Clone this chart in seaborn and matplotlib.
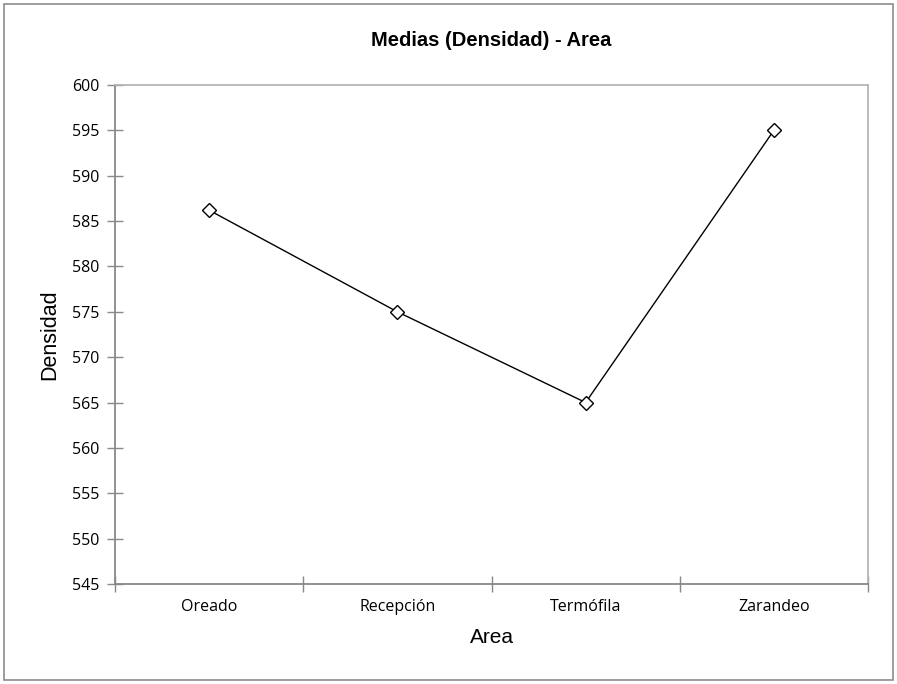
import numpy as np
import pandas as pd
import matplotlib
matplotlib.use('Agg')
import matplotlib.pyplot as plt
import seaborn as sns
from matplotlib.patches import Rectangle

# datos
areas = ['Oreado', 'Recepción', 'Termófila', 'Zarandeo']
densidad = [586.2, 575.0, 565.0, 595.0]
yticks = list(range(545, 601, 5))

df = pd.DataFrame({'Area': areas, 'Densidad': densidad})

sns.set_style('white')
plt.rcParams['font.family'] = ['Liberation Sans', 'DejaVu Sans']
plt.rcParams['text.color'] = 'black'
plt.rcParams['axes.labelcolor'] = 'black'
plt.rcParams['xtick.color'] = 'black'
plt.rcParams['ytick.color'] = 'black'

fig = plt.figure(figsize=(8.97, 6.84), dpi=100)
ax = fig.add_axes([115/897, 1-584/684, (868-115)/897, (584-85)/684])

sns.lineplot(x='Area', y='Densidad', data=df, ax=ax, color='black', linewidth=1,
             marker='D', markersize=7, markerfacecolor='white',
             markeredgecolor='black', markeredgewidth=1)

ax.set_xlim(-0.5, 3.5)
ax.set_ylim(545, 600)
ax.set_yticks(yticks)
ax.set_xticks(range(len(areas)))
ax.set_xticklabels(areas, family='Open Sans', fontsize=11.5)
ax.set_yticklabels([str(v) for v in yticks], family='Open Sans', fontsize=11.5)
ax.set_xticks(np.arange(-0.5, 4, 1), minor=True)
ax.tick_params(axis='x', which='major', bottom=True, length=0, pad=11)
ax.tick_params(axis='x', which='minor', bottom=True, direction='inout', length=12,
               color='#888888', width=1)
ax.tick_params(axis='y', left=True, direction='inout', length=11, color='#888888',
               width=1, pad=6)

for s in ['left', 'bottom']:
    ax.spines[s].set_color('#888888')
    ax.spines[s].set_linewidth(1.3)
for s in ['top', 'right']:
    ax.spines[s].set_color('#b5b5b5')
    ax.spines[s].set_linewidth(1.3)

ax.set_xlabel('Area', fontsize=15, labelpad=9)
ax.set_ylabel('Densidad', fontsize=15.5, labelpad=8)
fig.text(491/897, 1-40/684, 'Medias (Densidad) - Area', ha='center', va='center',
         fontsize=14.5, fontweight='bold')

# borde exterior del grafico
fig.patches.append(Rectangle((4/897, 4/684), 889/897, 676/684, transform=fig.transFigure,
                             fill=False, edgecolor='#8c8c8c', linewidth=1.2))

fig.savefig('out.png', dpi=100)
